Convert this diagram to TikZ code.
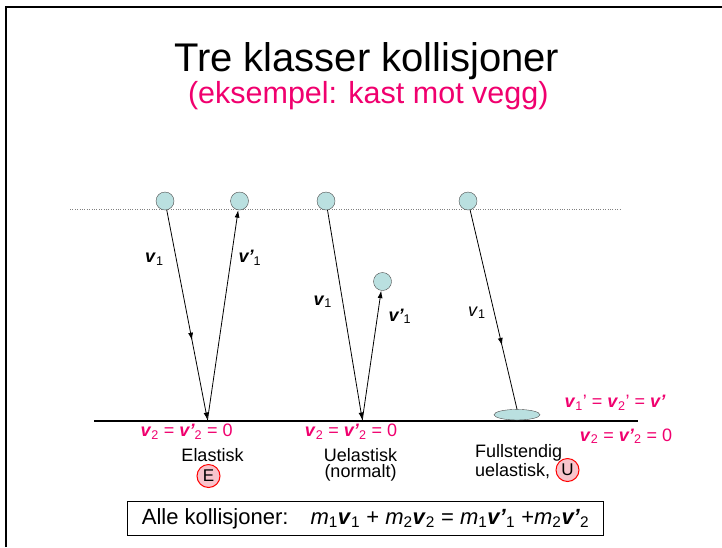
\documentclass[tikz,border=0pt]{standalone}
\usepackage{fontspec}
\setmainfont{Liberation Sans}
\usetikzlibrary{calc, arrows.meta, shapes.geometric, decorations.markings}
\definecolor{rosa}{RGB}{240,0,110}
\definecolor{kule}{RGB}{186,224,224}
\definecolor{merkefyll}{RGB}{248,196,204}
\tikzstyle{ball}=[shape=circle, minimum size=18pt, inner sep=0, draw=black!70, fill=kule]
\tikzstyle{fart}=[line width=0.8pt, -{Latex[length=7.5pt,width=5pt]}]
\tikzstyle{midpil}=[postaction={decorate}, decoration={markings, mark=at position #1 with {\arrow{Latex[length=7.5pt,width=5pt]}}}]
\tikzstyle{lbl}=[font=\fontsize{18}{20}\selectfont, inner sep=0, anchor=base west]
\tikzstyle{rosalbl}=[font=\fontsize{18}{20}\selectfont, inner sep=0, anchor=base, text=rosa]
\tikzstyle{merke}=[shape=circle, minimum size=23pt, inner sep=0, draw=red, line width=1pt, fill=merkefyll, font=\fontsize{17}{18}\selectfont]
\newcommand{\bv}{\textbf{\textit{v}}}
\newcommand{\bvp}{\textbf{\textit{v’}}}

\begin{document}
\begin{tikzpicture}[x=1pt, y=-1pt]
\useasboundingbox (0,0) rectangle (722,547);
\draw[line width=2.3pt] (6.2,547) -- (6.2,7.2) -- (722,7.2);
\node[font=\fontsize{40}{48}\selectfont, anchor=base] (tittel) at (366.7,71.7) {Tre klasser kollisjoner};
\node[font=\fontsize{30.5}{36}\selectfont, anchor=base, text=rosa] (undertittel) at (368.3,103.3) {(eksempel: kast mot vegg)};
\draw[dotted, gray] (70,209.3) -- (620,209.3);
% vegg
\coordinate (venstre) at (94,420.7);
\coordinate (hoyre) at (638,420.7);
\draw[line width=1.6pt] (venstre) -- (hoyre);
\coordinate (t1) at (207.5,420);
\coordinate (t2) at (362.3,420);
\node[ball] (a1) at (165,201) {};
\node[ball] (a2) at (239.5,201) {};
\node[ball] (b1) at (326,201) {};
\node[ball] (b2) at (382.5,281.5) {};
\node[ball] (c1) at (468,201) {};
\node[ellipse, draw=black!70, fill=kule, minimum width=46pt, minimum height=10.6pt, inner sep=0] (c2) at (517,414.7) {};
\draw[fart, midpil=0.62] (a1) -- (t1);
\draw[fart] (t1) -- (a2);
\draw[fart] (b1) -- (t2);
\draw[fart] (t2) -- (b2);
\draw[line width=0.8pt, midpil=0.68] (c1) -- (c2.north);
% etiketter
\node[lbl] (la1) at (145,262.7) {\bv\textsubscript{1}};
\node[lbl] (la2) at (238.3,262.7) {\bvp\textsubscript{1}};
\node[lbl] (lb1) at (313.3,305) {\bv\textsubscript{1}};
\node[lbl] (lb2) at (388.3,321) {\bvp\textsubscript{1}};
\node[lbl] (lc1) at (468,316) {\textit{v}\textsubscript{1}};
\node[rosalbl] (ra) at (186.7,436.5) {\bv\textsubscript{2} = \bvp\textsubscript{2} = 0};
\node[rosalbl] (rb) at (351,436.5) {\bv\textsubscript{2} = \bvp\textsubscript{2} = 0};
\node[rosalbl] (rc1) at (615,407.7) {\bv\textsubscript{1}’ = \bv\textsubscript{2}’ = \bvp};
\node[rosalbl] (rc2) at (626,441) {\bv\textsubscript{2} = \bvp\textsubscript{2} = 0};
\node[font=\fontsize{18}{20}\selectfont, anchor=base] (ela) at (212.5,461) {Elastisk};
\node[merke] (e) at (208.5,476) {E};
\node[font=\fontsize{18}{16.5}\selectfont, align=center, anchor=north, inner sep=0] (uel) at (360.5,448) {Uelastisk\\(normalt)};
\node[font=\fontsize{18}{19}\selectfont, align=left, anchor=north west, inner sep=0] (full) at (475,444) {Fullstendig\\uelastisk,};
\node[merke] (u) at (567.5,470) {U};
\node[draw, line width=0.8pt, minimum width=475.6pt, minimum height=33.3pt, inner sep=0, font=\fontsize{22}{26}\selectfont] (lov) at (365.5,518.3) {Alle kollisjoner:\quad \textit{m}\textsubscript{1}\bv\textsubscript{1} + \textit{m}\textsubscript{2}\bv\textsubscript{2} = \textit{m}\textsubscript{1}\bvp\textsubscript{1} +\textit{m}\textsubscript{2}\bvp\textsubscript{2}};
\end{tikzpicture}
\end{document}
